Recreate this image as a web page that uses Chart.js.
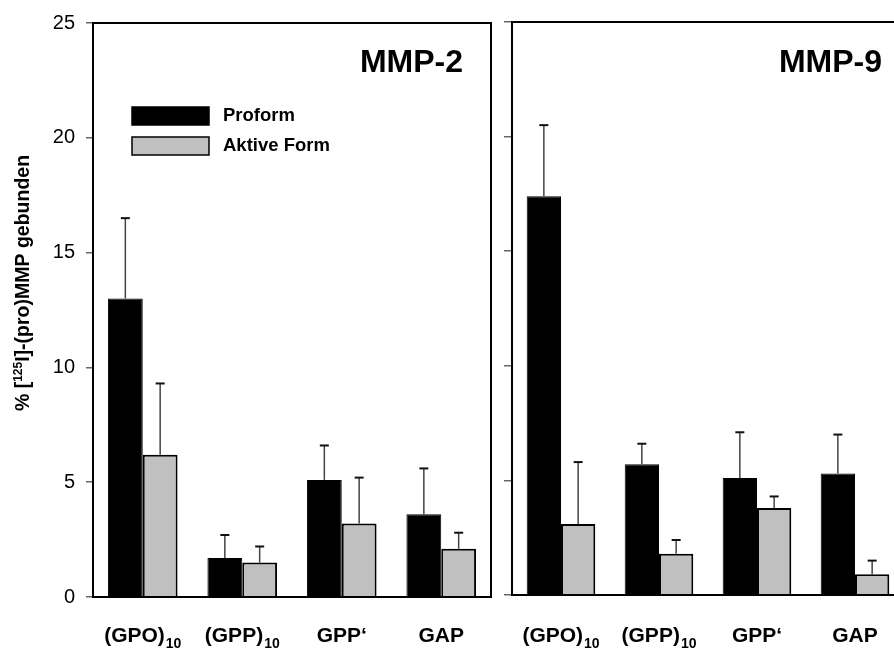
<!DOCTYPE html>
<html>
<head>
<meta charset="utf-8">
<script src="https://cdn.jsdelivr.net/npm/chart.js@4/dist/chart.umd.min.js"></script>
<style>
  html, body { margin: 0; padding: 0; background: #fff; overflow: hidden; width: 894px; height: 649px; }
  #c1 { position: absolute; left: 0; top: 0; }
  #c2 { position: absolute; left: 500px; top: 0; }
</style>
</head>
<body>
<canvas id="c1" width="500" height="649"></canvas>
<canvas id="c2" width="410" height="649"></canvas>
<script>
const categories = ['(GPO)10', '(GPP)10', 'GPP‘', 'GAP'];
const categorySubscripts = ['10', '10', '', ''];
const seriesNames = ['Proform', 'Aktive Form'];
const yTicks = [0, 5, 10, 15, 20, 25];
const panelTitles = ['MMP-2', 'MMP-9'];
const yAxisTitle = ['% [', '125', 'I]-(pro)MMP gebunden'];

const mmp2Proform = [13.0, 1.7, 5.1, 3.6];
const mmp2ProformErr = [3.5, 1.0, 1.5, 2.0];
const mmp2Aktive = [6.2, 1.5, 3.2, 2.1];
const mmp2AktiveErr = [3.1, 0.7, 2.0, 0.7];

const mmp9Proform = [17.4, 5.7, 5.1, 5.3];
const mmp9ProformErr = [3.1, 0.9, 2.0, 1.7];
const mmp9Aktive = [3.1, 1.8, 3.8, 0.9];
const mmp9AktiveErr = [2.7, 0.6, 0.5, 0.6];

const FONT = "'Liberation Sans', Arial, Helvetica, sans-serif";
const COLORS = ['#000000', '#c0c0c0'];

const errorBarPlugin = {
  id: 'errorBars',
  afterDatasetsDraw(chart) {
    const ctx = chart.ctx;
    const yScale = chart.scales.y;
    chart.data.datasets.forEach((ds, i) => {
      const meta = chart.getDatasetMeta(i);
      meta.data.forEach((el, j) => {
        const top = yScale.getPixelForValue(ds.data[j] + ds.errors[j]);
        ctx.save();
        ctx.strokeStyle = '#444';
        ctx.lineWidth = 1.5;
        ctx.beginPath();
        ctx.moveTo(el.x, el.y);
        ctx.lineTo(el.x, top);
        ctx.stroke();
        ctx.strokeStyle = '#111';
        ctx.lineWidth = 2;
        ctx.beginPath();
        ctx.moveTo(el.x - 4.5, top);
        ctx.lineTo(el.x + 4.5, top);
        ctx.stroke();
        ctx.restore();
      });
    });
  }
};

const decorPlugin = {
  id: 'decor',
  afterDraw(chart) {
    const o = chart.options.plugins.decor;
    const ctx = chart.ctx;
    const a = chart.chartArea;
    ctx.save();
    // frame
    ctx.strokeStyle = '#000';
    ctx.lineWidth = 2;
    ctx.strokeRect(a.left, a.top, a.right - a.left, a.bottom - a.top);
    // panel title
    ctx.fillStyle = '#000';
    ctx.font = 'bold 32px ' + FONT;
    ctx.textAlign = 'right';
    ctx.textBaseline = 'alphabetic';
    ctx.fillText(o.title, a.right - o.titleOffset, 72);
    // category labels with subscripts
    const xs = chart.scales.x;
    ctx.textAlign = 'left';
    categories.forEach((lab, i) => {
      const sub = categorySubscripts[i];
      const base = sub ? lab.slice(0, lab.length - sub.length) : lab;
      ctx.font = 'bold 21px ' + FONT;
      const wb = ctx.measureText(base).width;
      ctx.font = 'bold 14px ' + FONT;
      const ws = sub ? ctx.measureText(sub).width + 1 : 0;
      const x0 = xs.getPixelForValue(i) - (wb + ws) / 2;
      ctx.font = 'bold 21px ' + FONT;
      ctx.fillText(base, x0, 642);
      if (sub) {
        ctx.font = 'bold 14px ' + FONT;
        ctx.fillText(sub, x0 + wb + 1, 648);
      }
    });
    // legend
    if (o.legend) {
      chart.data.datasets.forEach((ds, i) => {
        const by = 107 + i * 30;
        ctx.fillStyle = ds.backgroundColor;
        ctx.fillRect(132, by, 77, 18);
        ctx.strokeStyle = '#000';
        ctx.lineWidth = 1.5;
        ctx.strokeRect(132, by, 77, 18);
        ctx.fillStyle = '#000';
        ctx.font = 'bold 18.5px ' + FONT;
        ctx.textBaseline = 'middle';
        ctx.fillText(ds.label, 223, by + 9);
      });
    }
    // y axis title
    if (o.yTitle) {
      ctx.translate(29, 283);
      ctx.rotate(-Math.PI / 2);
      ctx.textBaseline = 'alphabetic';
      ctx.fillStyle = '#000';
      ctx.font = 'bold 19.5px ' + FONT;
      const w1 = ctx.measureText(yAxisTitle[0]).width;
      const w3 = ctx.measureText(yAxisTitle[2]).width;
      ctx.font = 'bold 12px ' + FONT;
      const w2 = ctx.measureText(yAxisTitle[1]).width;
      let x = -(w1 + w2 + w3) / 2;
      ctx.font = 'bold 19.5px ' + FONT;
      ctx.fillText(yAxisTitle[0], x, 0);
      x += w1;
      ctx.font = 'bold 12px ' + FONT;
      ctx.fillText(yAxisTitle[1], x, -7.5);
      x += w2;
      ctx.font = 'bold 19.5px ' + FONT;
      ctx.fillText(yAxisTitle[2], x, 0);
    }
    ctx.restore();
  }
};

function makePanel(id, cfg) {
  return new Chart(document.getElementById(id), {
    type: 'bar',
    data: {
      labels: categories,
      datasets: [
        { label: seriesNames[0], data: cfg.pro, errors: cfg.proErr, backgroundColor: COLORS[0], borderColor: '#000', borderWidth: 1 },
        { label: seriesNames[1], data: cfg.akt, errors: cfg.aktErr, backgroundColor: COLORS[1], borderColor: '#000', borderWidth: 2 }
      ]
    },
    options: {
      responsive: false,
      animation: false,
      devicePixelRatio: 1,
      layout: { padding: { top: cfg.top, right: cfg.right, left: 0, bottom: 0 } },
      datasets: { bar: { categoryPercentage: 0.7, barPercentage: 1.0 } },
      plugins: {
        legend: { display: false },
        tooltip: { enabled: false },
        decor: { title: cfg.title, titleOffset: cfg.titleOffset, legend: cfg.legend, yTitle: cfg.yTitle }
      },
      scales: {
        x: {
          ticks: { display: false },
          grid: { display: false },
          border: { display: false },
          afterFit(s) { s.height = cfg.xHeight; }
        },
        y: {
          min: yTicks[0],
          max: yTicks[yTicks.length - 1],
          afterBuildTicks(s) { s.ticks = yTicks.map(v => ({ value: v })); },
          ticks: { display: cfg.showTickLabels, color: '#000', padding: 11, font: { size: 20, family: FONT } },
          grid: { drawOnChartArea: false, drawTicks: true, tickLength: cfg.tickLen, color: '#666', lineWidth: 1.5 },
          border: { display: false },
          afterFit(s) { s.width = cfg.yWidth; }
        }
      }
    },
    plugins: [errorBarPlugin, decorPlugin]
  });
}

makePanel('c1', {
  pro: mmp2Proform, proErr: mmp2ProformErr, akt: mmp2Aktive, aktErr: mmp2AktiveErr,
  title: panelTitles[0], titleOffset: 28, legend: true, yTitle: true,
  top: 20, right: 9, xHeight: 52, yWidth: 93, showTickLabels: true, tickLen: 7
});
makePanel('c2', {
  pro: mmp9Proform, proErr: mmp9ProformErr, akt: mmp9Aktive, aktErr: mmp9AktiveErr,
  title: panelTitles[1], titleOffset: 22, legend: false, yTitle: false,
  top: 22, right: 6, xHeight: 54, yWidth: 12, showTickLabels: false, tickLen: 8
});
</script>
</body>
</html>
